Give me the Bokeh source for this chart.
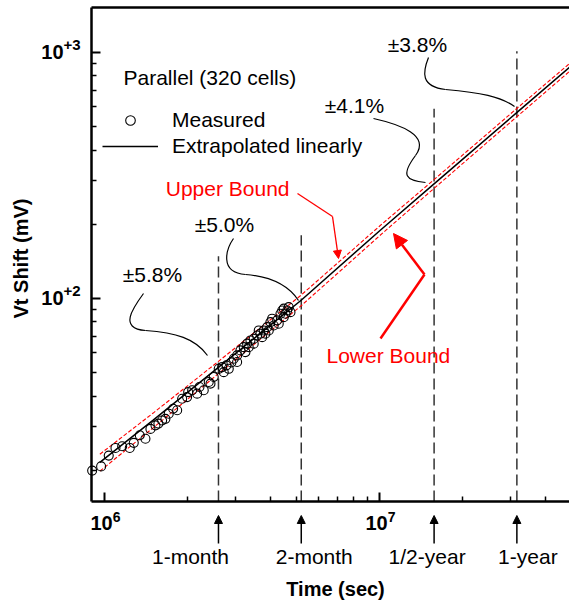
import numpy as np
from bokeh.plotting import figure
from bokeh.models import (Range1d, Label, Arrow, NormalHead, Legend, LegendItem,
                          LinearAxis, FixedTicker, ColumnDataSource)
from bokeh.embed import file_html
from bokeh.resources import INLINE

FONT = "Liberation Sans"

# ---------------- data ----------------
meas_t = [9.00e5, 9.70e5, 1.034e6, 1.094e6, 1.157e6, 1.233e6, 1.275e6, 1.341e6,
          1.406e6, 1.466e6, 1.529e6, 1.567e6, 1.617e6, 1.662e6, 1.709e6, 1.773e6,
          1.834e6, 1.912e6, 1.993e6, 2.011e6, 2.079e6, 2.168e6, 2.210e6, 2.291e6,
          2.389e6, 2.424e6, 2.491e6, 2.597e6, 2.673e6, 2.709e6, 2.770e6, 2.825e6,
          2.888e6, 2.945e6, 3.030e6, 3.030e6, 3.115e6, 3.202e6, 3.248e6, 3.294e6,
          3.338e6, 3.387e6, 3.481e6, 3.481e6, 3.582e6, 3.631e6, 3.683e6, 3.736e6,
          3.786e6, 3.840e6, 3.895e6, 3.949e6, 4.004e6, 4.060e6, 4.116e6, 4.236e6,
          4.293e6, 4.355e6, 4.418e6, 4.477e6, 4.477e6, 4.541e6, 4.607e6, 4.668e6,
          4.736e6]
meas_v = [19.9, 20.7, 22.9, 24.6, 25.0, 24.6, 25.8, 27.7,
          26.8, 29.4, 30.4, 30.9, 31.8, 32.3, 33.9, 35.5,
          35.0, 39.0, 39.6, 41.5, 42.2, 40.9, 43.5, 42.2,
          45.6, 44.9, 47.8, 51.6, 52.4, 50.0, 53.3, 51.6,
          54.8, 56.7, 58.5, 55.0, 61.3, 63.2, 60.3, 65.3,
          63.2, 67.3, 68.4, 65.3, 70.5, 73.9, 71.7, 69.4,
          73.9, 71.7, 76.2, 73.9, 79.9, 82.5, 77.4, 81.2,
          78.7, 86.4, 89.1, 83.7, 90.6, 86.4, 89.1, 91.9,
          87.7]

line_t = [9.6e5, 1.5e6, 2.59e6, 5.18e6, 1.0e7, 1.58e7, 3.15e7, 4.9e7]
line_v = [21.5, 31.9, 52.3, 98.0, 188.0, 292.0, 568.0, 867.0]
upper_v = [23.2, 34.1, 55.3, 102.9, 196.5, 304.0, 590.0, 899.0]
lower_v = [19.8, 29.7, 49.3, 93.1, 179.5, 280.0, 546.0, 835.0]

mark_t = [2.592e6, 5.184e6, 1.5768e7, 3.1536e7]
mark_names = ["1-month", "2-month", "1/2-year", "1-year"]
mark_top = [148.0, 180.0, 589.0, 1009.0]
pct_text = ["\u00b15.8%", "\u00b15.0%", "\u00b14.1%", "\u00b13.8%"]

x_ticks = [1e6, 1e7]
x_tick_exp = ["6", "7"]
y_ticks = [100.0, 1000.0]
y_tick_exp = ["+2", "+3"]

# ---------------- layout ----------------
X0, X1 = 8.95e5, 4.9e7          # time axis extent
Y_AX, Y1 = 14.9, 1519.0         # value axis extent
W, H = 569, 602
LEFT, TOP, AXIS_PX = 91, 7, 501  # pixel column of value axis, top border row, time axis row

SX = (np.log10(X1) - np.log10(X0)) / (W - LEFT)
SY = (np.log10(Y1) - np.log10(Y_AX)) / (AXIS_PX - TOP)


def at(px, py):
    """pixel position in the picture -> data coordinates (for annotations)"""
    return (10 ** (np.log10(X0) + (px - LEFT) * SX),
            10 ** (np.log10(Y1) - (py - TOP) * SY))


def ay(py):
    return at(LEFT, py)[1]


XL, YT = at(0, 0)
Y_BOT = ay(H)

# the frame covers the whole page; axes are pinned at their data positions
p = figure(width=W, height=H, x_axis_type="log", y_axis_type="log",
           x_range=Range1d(XL, X1), y_range=Range1d(Y_BOT, YT),
           output_backend="svg", toolbar_location=None,
           min_border_left=0, min_border_right=0, min_border_top=0,
           min_border_bottom=0)
p.outline_line_color = None
p.xgrid.visible = False
p.ygrid.visible = False
p.background_fill_color = "white"
p.border_fill_color = "white"

x_minor = [k * 10.0 ** e for e in (6, 7) for k in range(2, 10)]
y_minor = [k * 10.0 ** e for e in (1, 2, 3) for k in range(2, 10)]

for ax, ticks, minor in ((p.xaxis[0], x_ticks, x_minor), (p.yaxis[0], y_ticks, y_minor)):
    ax.ticker = FixedTicker(ticks=ticks, minor_ticks=minor)
    ax.major_label_overrides = {t: "" for t in ticks}
    ax.axis_line_width = 2.5
    ax.axis_line_color = "black"
    ax.major_tick_in = 9
    ax.major_tick_out = 0
    ax.major_tick_line_width = 2
    ax.minor_tick_in = 5
    ax.minor_tick_out = 0
    ax.minor_tick_line_width = 1.5

p.xaxis[0].fixed_location = Y_AX
p.xaxis[0].bounds = (X0, X1)
p.yaxis[0].fixed_location = X0
p.yaxis[0].bounds = (Y_AX, Y1)

top_axis = LinearAxis(ticker=FixedTicker(ticks=[]), axis_line_width=2.5,
                      major_tick_in=0, major_tick_out=0, minor_tick_in=0,
                      minor_tick_out=0, major_label_text_font_size="0px",
                      fixed_location=Y1, bounds=(X0, X1))
p.add_layout(top_axis, "above")


def text(x, y, s, size="21px", color="black", bold=False, align="center",
         dx=0, dy=0, angle=0.0):
    p.add_layout(Label(x=x, y=y, text=s, x_offset=dx, y_offset=dy, angle=angle,
                       text_font=FONT, text_font_size=size, text_color=color,
                       text_font_style="bold" if bold else "normal",
                       text_align=align, text_baseline="middle"))


# tick labels (10 with a raised exponent)
for t, ex in zip(x_ticks, x_tick_exp):
    text(t, Y_AX, "10", size="20px", bold=True, align="right", dx=8, dy=-21)
    text(t, Y_AX, ex, size="14px", bold=True, align="left", dx=8, dy=-15)
for v, ex in zip(y_ticks, y_tick_exp):
    text(X0, v, "10", size="20px", bold=True, align="right", dx=-28, dy=0)
    text(X0, v, ex, size="15px", bold=True, align="left", dx=-28, dy=7)

# axis titles
text(*at(335, 588), "Time (sec)", size="20px", bold=True)
text(*at(20, 258), "Vt Shift (mV)", size="20px", bold=True, angle=np.pi / 2)

# vertical dashed time markers
p.segment(x0=mark_t, y0=[Y_AX] * len(mark_t), x1=mark_t, y1=mark_top,
          line_color="#333333", line_width=1.5, line_dash="11 5")

# bounds
p.line(line_t, upper_v, line_color="red", line_width=1.1, line_dash="4 2")
p.line(line_t, lower_v, line_color="red", line_width=1.1, line_dash="4 2")

# extrapolated line and measured points
line_r = p.line(line_t, line_v, line_color="black", line_width=1.5)
circ_r = p.scatter(meas_t, meas_v, marker="circle", size=9, fill_color=None,
                   line_color="black", line_width=1.1)

legend = Legend(items=[LegendItem(label="Measured", renderers=[circ_r]),
                       LegendItem(label="Extrapolated linearly", renderers=[line_r])],
                location=(102, H - 158), border_line_color=None,
                background_fill_alpha=0, padding=0, margin=0, glyph_width=56,
                glyph_height=24, label_height=24, label_standoff=14, spacing=2,
                label_text_font=FONT, label_text_font_size="21px",
                label_text_color="black")
p.add_layout(legend)

text(*at(123, 77), "Parallel (320 cells)", align="left")

# percentage labels and leader curves
pct_pos = [(152, 274), (224, 224), (354, 105), (417, 44)]
for s, (cx, cy) in zip(pct_text, pct_pos):
    text(*at(cx, cy), s)

curves = [
    ((143, 293), (132, 308), (118, 328), (145, 330)),
    ((145, 330), (175, 332), (195, 338), (207, 355)),
    ((233, 238), (226, 248), (218, 272), (245, 274)),
    ((245, 274), (270, 276), (288, 285), (298, 300)),
    ((373, 118), (400, 124), (430, 135), (415, 155)),
    ((415, 155), (400, 175), (405, 180), (425, 182)),
    ((428, 57), (422, 72), (420, 86), (445, 89)),
    ((445, 89), (480, 92), (500, 96), (514, 106)),
]
bz = {k: [] for k in ("x0", "y0", "cx0", "cy0", "cx1", "cy1", "x1", "y1")}
for a, c0, c1, b in curves:
    for key, pt in (("0", a), ("1", b)):
        x, y = at(*pt)
        bz["x" + key].append(x)
        bz["y" + key].append(y)
    for key, pt in (("cx0", c0), ("cx1", c1)):
        x, y = at(*pt)
        bz[key].append(x)
        bz["cy" + key[-1]].append(y)
p.bezier(x0="x0", y0="y0", x1="x1", y1="y1", cx0="cx0", cy0="cy0", cx1="cx1",
         cy1="cy1", source=ColumnDataSource(bz), line_color="black", line_width=1.2)

# Upper / Lower bound callouts
text(*at(289, 188), "Upper Bound", color="red", align="right")
text(*at(326, 355), "Lower Bound", color="red", align="left")

u_pts = [at(297, 193), at(332, 216)]
p.line([q[0] for q in u_pts], [q[1] for q in u_pts], line_color="red", line_width=1.3)
s0, e0 = at(332, 216), at(338, 258)
p.add_layout(Arrow(x_start=s0[0], y_start=s0[1], x_end=e0[0], y_end=e0[1],
                   line_color="red", line_width=1.3,
                   end=NormalHead(size=8, fill_color="red", line_color="red")))

l_pts = [at(380, 338), at(424, 274)]
p.line([q[0] for q in l_pts], [q[1] for q in l_pts], line_color="red", line_width=2.5)
s0, e0 = at(424, 274), at(393, 233)
p.add_layout(Arrow(x_start=s0[0], y_start=s0[1], x_end=e0[0], y_end=e0[1],
                   line_color="red", line_width=2.5,
                   end=NormalHead(size=14, fill_color="red", line_color="red")))

# arrows and names below the time axis
arr_src = ColumnDataSource(dict(x0=mark_t, y0=[ay(543)] * 4, x1=mark_t, y1=[ay(515)] * 4))
p.add_layout(Arrow(x_start="x0", y_start="y0", x_end="x1", y_end="y1", source=arr_src,
                   line_color="black", line_width=1.5,
                   end=NormalHead(size=8, fill_color="black", line_color="black")))
name_dx = [-28, 13, -7, 11]
for t, name, dx in zip(mark_t, mark_names, name_dx):
    text(t, ay(556), name, dx=dx)

open("out.html", "w").write(file_html(p, INLINE))
